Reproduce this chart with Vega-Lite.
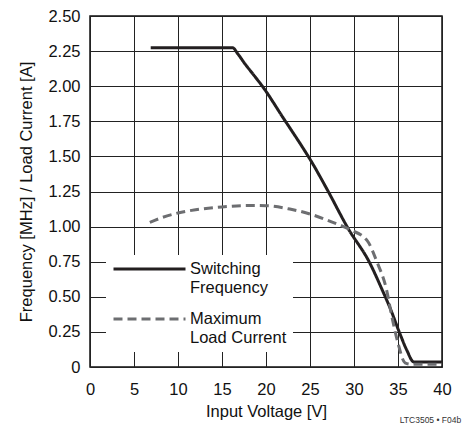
{
  "$schema": "https://vega.github.io/schema/vega-lite/v6.json",
  "width": 352,
  "height": 351,
  "autosize": {"type": "none"},
  "padding": {"left": 90, "top": 16, "right": 24, "bottom": 58},
  "background": "white",
  "config": {
    "font": "Liberation Sans",
    "view": {"stroke": "#111", "strokeWidth": 1.5},
    "axis": {
      "grid": true, "gridColor": "#222", "gridWidth": 1, "gridOpacity": 1,
      "domain": false, "ticks": false, "tickSize": 0,
      "labelFontSize": 16.5, "labelColor": "#111", "labelFont": "Liberation Sans",
      "titleFontSize": 16.5, "titleFontWeight": "normal", "titleColor": "#111", "titleFont": "Liberation Sans"
    }
  },
  "title": {"text": "LTC3505 • F04b", "orient": "bottom", "anchor": "end", "fontSize": 8.5, "fontWeight": "normal", "color": "#333", "offset": -4, "dx": 10, "font": "Liberation Sans"},
  "data": {"values": [
    {"v": 6.9, "y": 2.274, "series": "Switching Frequency"},
    {"v": 16.2, "y": 2.274, "series": "Switching Frequency"},
    {"v": 16.8, "y": 2.23, "series": "Switching Frequency"},
    {"v": 17.6, "y": 2.16, "series": "Switching Frequency"},
    {"v": 18.6, "y": 2.08, "series": "Switching Frequency"},
    {"v": 19.7, "y": 1.99, "series": "Switching Frequency"},
    {"v": 22.0, "y": 1.77, "series": "Switching Frequency"},
    {"v": 24.2, "y": 1.56, "series": "Switching Frequency"},
    {"v": 25.0, "y": 1.48, "series": "Switching Frequency"},
    {"v": 26.9, "y": 1.27, "series": "Switching Frequency"},
    {"v": 29.3, "y": 0.99, "series": "Switching Frequency"},
    {"v": 31.8, "y": 0.74, "series": "Switching Frequency"},
    {"v": 33.2, "y": 0.55, "series": "Switching Frequency"},
    {"v": 34.1, "y": 0.42, "series": "Switching Frequency"},
    {"v": 35.2, "y": 0.24, "series": "Switching Frequency"},
    {"v": 36.0, "y": 0.12, "series": "Switching Frequency"},
    {"v": 36.8, "y": 0.036, "series": "Switching Frequency"},
    {"v": 40.0, "y": 0.036, "series": "Switching Frequency"},
    {"v": 6.8, "y": 1.03, "series": "Maximum Load Current"},
    {"v": 8.0, "y": 1.06, "series": "Maximum Load Current"},
    {"v": 10.0, "y": 1.097, "series": "Maximum Load Current"},
    {"v": 12.0, "y": 1.12, "series": "Maximum Load Current"},
    {"v": 15.0, "y": 1.14, "series": "Maximum Load Current"},
    {"v": 18.0, "y": 1.15, "series": "Maximum Load Current"},
    {"v": 20.0, "y": 1.149, "series": "Maximum Load Current"},
    {"v": 22.7, "y": 1.125, "series": "Maximum Load Current"},
    {"v": 25.0, "y": 1.09, "series": "Maximum Load Current"},
    {"v": 27.6, "y": 1.03, "series": "Maximum Load Current"},
    {"v": 29.5, "y": 0.98, "series": "Maximum Load Current"},
    {"v": 31.5, "y": 0.9, "series": "Maximum Load Current"},
    {"v": 32.6, "y": 0.75, "series": "Maximum Load Current"},
    {"v": 33.7, "y": 0.55, "series": "Maximum Load Current"},
    {"v": 34.3, "y": 0.36, "series": "Maximum Load Current"},
    {"v": 35.0, "y": 0.17, "series": "Maximum Load Current"},
    {"v": 35.8, "y": 0.03, "series": "Maximum Load Current"},
    {"v": 36.5, "y": 0.02, "series": "Maximum Load Current"},
    {"v": 40.0, "y": 0.02, "series": "Maximum Load Current"}
  ]},
  "mark": {"type": "line", "interpolate": "monotone", "strokeWidth": 3},
  "encoding": {
    "x": {"field": "v", "type": "quantitative",
      "scale": {"domain": [0, 40], "nice": false, "zero": false},
      "axis": {"values": [0, 5, 10, 15, 20, 25, 30, 35, 40], "title": "Input Voltage [V]", "labelPadding": 14, "titlePadding": 6, "labelFlush": false}},
    "y": {"field": "y", "type": "quantitative",
      "scale": {"domain": [0, 2.5], "nice": false},
      "axis": {"values": [0, 0.25, 0.5, 0.75, 1, 1.25, 1.5, 1.75, 2, 2.25, 2.5], "labelExpr": "datum.value == 0 ? '0' : format(datum.value, '.2f')", "title": "Frequency [MHz] / Load Current [A]", "labelPadding": 10, "titlePadding": 13, "labelFlush": false}},
    "color": {"field": "series", "type": "nominal",
      "scale": {"domain": ["Switching Frequency", "Maximum Load Current"], "range": ["#231f20", "#6d6e71"]},
      "legend": {"title": null, "orient": "none", "legendX": 16, "legendY": 239, "fillColor": "white", "padding": 6, "symbolType": "stroke", "symbolSize": 5184, "symbolStrokeWidth": 3, "clipHeight": 16, "labelFontSize": 16.5, "labelColor": "#111", "labelOffset": 3, "labelFont": "Liberation Sans", "rowPadding": 15, "labelLimit": 200, "labelBaseline": "middle", "labelExpr": "datum.label == 'Switching Frequency' ? ['Switching', 'Frequency'] : ['Maximum', 'Load Current']"}},
    "strokeDash": {"field": "series", "type": "nominal",
      "scale": {"domain": ["Switching Frequency", "Maximum Load Current"], "range": [[1, 0], [9, 5]]},
      "legend": {"title": null, "orient": "none", "legendX": 16, "legendY": 239, "fillColor": "white", "padding": 6, "symbolType": "stroke", "symbolSize": 5184, "symbolStrokeWidth": 3, "clipHeight": 16, "labelFontSize": 16.5, "labelColor": "#111", "labelOffset": 3, "labelFont": "Liberation Sans", "rowPadding": 15, "labelLimit": 200, "labelBaseline": "middle", "labelExpr": "datum.label == 'Switching Frequency' ? ['Switching', 'Frequency'] : ['Maximum', 'Load Current']"}}
  }
}
